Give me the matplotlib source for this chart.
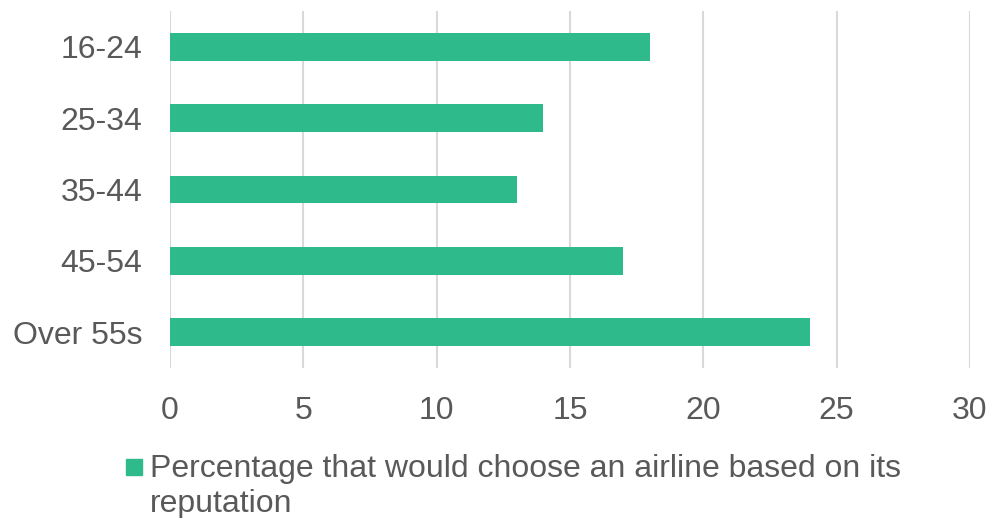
import matplotlib
matplotlib.use("Agg")
import matplotlib.pyplot as plt
from matplotlib.patches import Rectangle

categories = ["16-24", "25-34", "35-44", "45-54", "Over 55s"]
values = [18, 14, 13, 17, 24]
xticks = [0, 5, 10, 15, 20, 25, 30]
legend_lines = ["Percentage that would choose an airline based on its", "reputation"]

bar_color = "#2FBA8C"
text_color = "#595959"
grid_color = "#D9D9D9"

plt.rcParams['font.family'] = ['Liberation Sans', 'DejaVu Sans']
W, H = 992, 518
fig = plt.figure(figsize=(W / 100, H / 100), dpi=100)
ax = fig.add_axes([170 / W, 1 - 368 / H, 800 / W, 357 / H])

ypos = list(range(len(categories)))
ax.barh(ypos, values, height=0.39, color=bar_color, zorder=3)
ax.set_ylim(len(categories) - 0.5, -0.5)
ax.set_xlim(0, 30)
ax.set_yticks(ypos)
ax.set_yticklabels(categories)
ax.set_xticks(xticks)
ax.set_xticklabels([str(t) for t in xticks])
ax.tick_params(axis='both', length=0, labelsize=23, labelcolor=text_color)
ax.tick_params(axis='x', pad=20)
ax.tick_params(axis='y', pad=20)
ax.grid(axis='x', color=grid_color, linewidth=1.5, zorder=0)
for s in ax.spines.values():
    s.set_visible(False)

fig.patches.append(Rectangle((126 / W, 1 - 475 / H), 16 / W, 16 / H,
                             transform=fig.transFigure, color=bar_color))
for i, line in enumerate(legend_lines):
    fig.text(150 / W, 1 - (477 + 35 * i) / H, line, ha='left', va='baseline',
             fontsize=23, color=text_color)

fig.savefig("out.png", dpi=100)
